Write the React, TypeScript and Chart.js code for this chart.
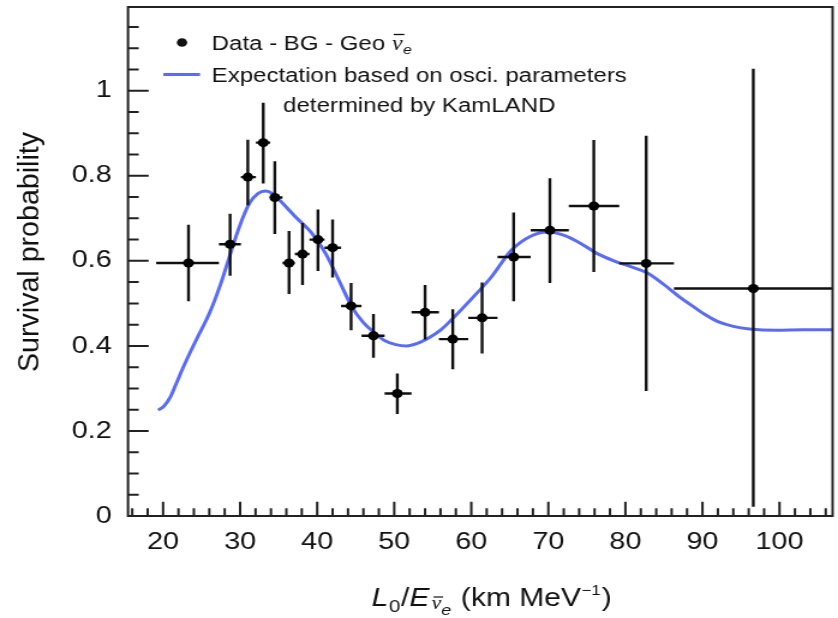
import React, { useEffect, useRef } from "react";
import { Chart, registerables } from "chart.js";

Chart.register(...registerables);

// ---- data ----
const binCenters = [23.3, 28.7, 31.0, 33.0, 34.5, 36.35, 38.1, 40.1, 42.0, 44.4, 47.3, 50.4, 54.0, 57.6, 61.4, 65.5, 70.2, 75.9, 82.7, 96.6];
const survival = [0.595, 0.639, 0.797, 0.878, 0.749, 0.595, 0.616, 0.65, 0.631, 0.494, 0.424, 0.288, 0.479, 0.416, 0.466, 0.609, 0.672, 0.729, 0.594, 0.535];
const errUpper = [0.685, 0.711, 0.885, 0.972, 0.834, 0.67, 0.689, 0.721, 0.697, 0.548, 0.475, 0.335, 0.543, 0.486, 0.549, 0.714, 0.794, 0.884, 0.894, 1.052];
const errLower = [0.505, 0.565, 0.731, 0.782, 0.663, 0.522, 0.543, 0.576, 0.561, 0.437, 0.372, 0.24, 0.415, 0.345, 0.382, 0.505, 0.548, 0.574, 0.294, 0.022];
const binEdges = [19.1, 27.25, 30.1, 32.05, 33.9, 35.5, 37.1, 39.0, 40.95, 43.1, 45.75, 48.75, 52.25, 55.8, 59.6, 63.4, 67.7, 72.65, 79.2, 86.3, 112];

const curveLE = [19.36, 20.1, 20.86, 21.7, 22.6, 24.3, 26.0, 27.5, 28.6, 29.9, 31.2, 32.3, 33.3, 34.2, 35.1, 37.2, 39.35, 41.1, 42.8, 44.5, 46.0, 47.5, 48.8, 50.2, 51.6, 53.0, 54.4, 56.0, 57.4, 60.0, 62.6, 65.2, 67.7, 69.9, 72.05, 74.2, 76.35, 78.5, 80.6, 82.8, 84.95, 87.1, 89.0, 90.5, 92.0, 94.0, 96.1, 99.6, 103.0, 107.0];
const curveP = [0.249, 0.258, 0.277, 0.311, 0.349, 0.414, 0.476, 0.547, 0.609, 0.68, 0.735, 0.758, 0.764, 0.758, 0.743, 0.703, 0.664, 0.617, 0.555, 0.492, 0.455, 0.43, 0.412, 0.403, 0.4, 0.406, 0.418, 0.437, 0.461, 0.51, 0.562, 0.625, 0.658, 0.668, 0.66, 0.641, 0.617, 0.6, 0.587, 0.572, 0.545, 0.514, 0.49, 0.472, 0.457, 0.446, 0.44, 0.437, 0.438, 0.438];

const yTickLabels = ["0", "0.2", "0.4", "0.6", "0.8", "1"];

const X_MIN = 15.45;
const X_MAX = 106.89;
const Y_MIN = 0;
const Y_MAX = 1.197;

const legendData = "Data - BG - Geo ";
const legendCurve1 = "Expectation based on osci. parameters";
const legendCurve2 = "determined by KamLAND";
const yTitle = "Survival probability";

// ---- layout (canvas drawn narrower, then stretched horizontally) ----
const CW = 698;
const CH = 618;
const S = 838 / CW;
const SANS = '"Liberation Sans", Arial, Helvetica, sans-serif';
const SERIF = '"Liberation Serif", "Times New Roman", serif';
const BLUE = "#5a6cf5";
const INK = "#111";

const decor = {
  id: "decor",
  afterDatasetDraw(chart: any, args: any) {
    if (args.index !== 0) return;
    const { ctx, chartArea: a, scales } = chart;
    const x = scales.x;
    const y = scales.y;
    ctx.save();
    ctx.beginPath();
    ctx.rect(a.left, a.top, a.right - a.left, a.bottom - a.top);
    ctx.clip();
    ctx.strokeStyle = INK;
    ctx.lineWidth = 2.4;
    for (let i = 0; i < binCenters.length; i++) {
      const px = x.getPixelForValue(binCenters[i]);
      const py = y.getPixelForValue(survival[i]);
      ctx.beginPath();
      ctx.moveTo(x.getPixelForValue(binEdges[i]), py);
      ctx.lineTo(x.getPixelForValue(binEdges[i + 1]), py);
      ctx.moveTo(px, y.getPixelForValue(errUpper[i]));
      ctx.lineTo(px, y.getPixelForValue(errLower[i]));
      ctx.stroke();
    }
    ctx.restore();
  },
  afterDraw(chart: any) {
    const { ctx, chartArea: a, scales } = chart;
    const x = scales.x;
    const y = scales.y;
    ctx.save();
    // frame
    ctx.strokeStyle = "#222";
    ctx.lineWidth = 2;
    ctx.strokeRect(a.left, a.top, a.right - a.left, a.bottom - a.top);
    // inner ticks
    ctx.beginPath();
    for (let k = 0; k <= 40; k++) {
      const v = k * 0.05;
      if (v > Y_MAX) break;
      const py = y.getPixelForValue(v);
      const len = k % 4 === 0 ? 17.2 : 8.9;
      ctx.moveTo(a.left, py);
      ctx.lineTo(a.left + len, py);
    }
    for (let v = 16; v <= X_MAX; v += 2) {
      const px = x.getPixelForValue(v);
      const len = v % 10 === 0 ? 14.3 : 7.7;
      ctx.moveTo(px, a.bottom);
      ctx.lineTo(px, a.bottom - len);
    }
    ctx.stroke();

    ctx.fillStyle = INK;
    ctx.strokeStyle = INK;
    ctx.textAlign = "left";
    ctx.textBaseline = "alphabetic";

    // legend
    ctx.beginPath();
    ctx.arc(182 / S, 42.5, 4.3, 0, Math.PI * 2);
    ctx.fill();
    let tx = 211.7 / S;
    ctx.font = `20px ${SANS}`;
    ctx.fillText(legendData, tx, 49.5);
    tx += ctx.measureText(legendData).width;
    ctx.font = `italic 20px ${SERIF}`;
    ctx.fillText("ν", tx, 49.5);
    const nw = ctx.measureText("ν").width;
    ctx.lineWidth = 1.3;
    ctx.beginPath();
    ctx.moveTo(tx + 1.5, 34.5);
    ctx.lineTo(tx + nw + 1.5, 34.5);
    ctx.stroke();
    ctx.font = `italic 13px ${SANS}`;
    ctx.fillText("e", tx + nw + 0.5, 53.5);

    ctx.strokeStyle = BLUE;
    ctx.lineWidth = 3;
    ctx.beginPath();
    ctx.moveTo(163.3 / S, 74.5);
    ctx.lineTo(200 / S, 74.5);
    ctx.stroke();
    ctx.font = `20px ${SANS}`;
    ctx.fillText(legendCurve1, 211.7 / S, 81.5);
    const w1 = ctx.measureText(legendCurve1).width;
    ctx.textAlign = "center";
    ctx.fillText(legendCurve2, 211.7 / S + w1 / 2, 112);
    ctx.textAlign = "left";

    // x title
    ctx.strokeStyle = INK;
    const F = 25;
    const runs: any[] = [
      { t: "L", font: `italic ${F}px ${SANS}`, y: 606, dx: 0 },
      { t: "0", font: `17px ${SANS}`, y: 612, dx: 0.5 },
      { t: "/", font: `${F}px ${SANS}`, y: 606, dx: 0.5 },
      { t: "E", font: `italic ${F}px ${SANS}`, y: 606, dx: 0 },
      { t: "ν", font: `italic 18px ${SERIF}`, y: 609, dx: 2, bar: 597 },
      { t: "e", font: `italic 15px ${SANS}`, y: 615, dx: 0 },
      { t: " (km MeV", font: `${F}px ${SANS}`, y: 606, dx: 1 },
      { t: "−1", font: `14px ${SANS}`, y: 595, dx: 0.5 },
      { t: ")", font: `${F}px ${SANS}`, y: 606, dx: 1 },
    ];
    let rx = 371.7 / S;
    for (const r of runs) {
      ctx.font = r.font;
      rx += r.dx;
      ctx.fillText(r.t, rx, r.y);
      const w = ctx.measureText(r.t).width;
      if (r.bar) {
        ctx.lineWidth = 1.2;
        ctx.beginPath();
        ctx.moveTo(rx + 1.5, r.bar);
        ctx.lineTo(rx + w + 1.5, r.bar);
        ctx.stroke();
      }
      rx += w;
    }

    // y title (compensate horizontal stretch)
    ctx.save();
    ctx.translate(30.8 / S, 252);
    ctx.scale(1 / S, 1);
    ctx.rotate(-Math.PI / 2);
    ctx.font = `28.6px ${SANS}`;
    ctx.textAlign = "center";
    ctx.textBaseline = "middle";
    ctx.fillText(yTitle, 0, 0);
    ctx.restore();

    ctx.restore();
  },
};

export default function App() {
  const ref = useRef<HTMLCanvasElement>(null);
  useEffect(() => {
    document.body.style.margin = "0";
    const canvas = ref.current!;
    const chart = new Chart(canvas, {
      type: "scatter",
      data: {
        datasets: [
          {
            type: "line",
            label: "Expectation",
            data: curveLE.map((v, i) => ({ x: v, y: curveP[i] })),
            borderColor: BLUE,
            borderWidth: 3,
            pointRadius: 0,
            fill: false,
            tension: 0.4,
            cubicInterpolationMode: "monotone",
            order: 1,
          } as any,
          {
            type: "scatter",
            label: "Data",
            data: binCenters.map((v, i) => ({ x: v, y: survival[i] })),
            pointRadius: 4.5,
            pointBackgroundColor: "#000",
            pointBorderWidth: 0,
            borderWidth: 0,
            order: 0,
          } as any,
        ],
      },
      options: {
        responsive: false,
        maintainAspectRatio: false,
        devicePixelRatio: 1,
        animation: false,
        layout: { padding: { top: 7, right: CW - 836.7 / S, left: 0, bottom: 0 } },
        plugins: { legend: { display: false }, tooltip: { enabled: false } },
        scales: {
          x: {
            type: "linear",
            min: X_MIN,
            max: X_MAX,
            grid: { display: false, drawTicks: false },
            border: { display: false },
            ticks: {
              stepSize: 10,
              includeBounds: false,
              autoSkip: false,
              maxRotation: 0,
              padding: 12,
              color: INK,
              font: { family: SANS, size: 24 },
            },
            afterFit: (s: any) => {
              s.height = CH - 516;
              s.paddingLeft = 0;
              s.paddingRight = 0;
            },
          },
          y: {
            type: "linear",
            min: Y_MIN,
            max: Y_MAX,
            grid: { display: false, drawTicks: false },
            border: { display: false },
            ticks: {
              stepSize: 0.2,
              includeBounds: false,
              padding: 13.5,
              color: INK,
              font: { family: SANS, size: 24 },
              callback: (v: any) => yTickLabels[Math.round(Number(v) / 0.2)] ?? "",
            },
            afterFit: (s: any) => {
              s.width = 128 / S;
              s.paddingTop = 0;
              s.paddingBottom = 0;
            },
          },
        },
      },
      plugins: [decor],
    });
    return () => chart.destroy();
  }, []);
  return (
    <div style={{ position: "absolute", left: 0, top: 0, width: 838, height: 618, overflow: "hidden", background: "#fff" }}>
      <canvas ref={ref} width={CW} height={CH} style={{ width: "838px", height: "618px", display: "block" }} />
    </div>
  );
}
